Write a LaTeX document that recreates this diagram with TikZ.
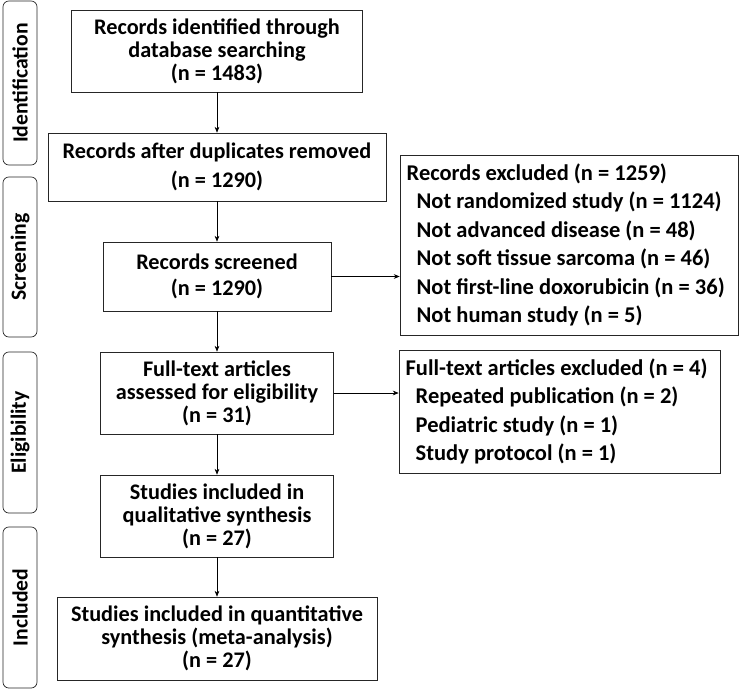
\documentclass[tikz,border=0pt]{standalone}
\usepackage{fontspec}
\setmainfont{Carlito}
\usetikzlibrary{arrows.meta}

\begin{document}
\begin{tikzpicture}[x=0.03cm, y=-0.03cm,
  box/.style={draw=black!85, line width=0.6pt, align=center, inner sep=0pt,
    font=\bfseries\fontsize{19}{19.6}\selectfont},
  exbox/.style={draw=black!85, line width=0.6pt, align=flush left, inner xsep=0.2cm, inner ysep=0pt,
    font=\bfseries\fontsize{19.2}{24.3}\selectfont},
  stage/.style={draw=black!85, line width=0.6pt, rounded corners=5pt, rotate=90,
    minimum height=1.02cm, inner sep=0pt, font=\bfseries\fontsize{18.5}{19}\selectfont},
  arr/.style={-{Stealth[length=5pt, width=4pt]}, line width=0.5pt}]
  \useasboundingbox (0,0) rectangle (740,690);

  % stage labels on the left
  \node[stage, minimum width=4.92cm] (ident) at (20, 83) {Identification};
  \node[stage, minimum width=4.8cm]  (screen) at (20, 257) {Screening};
  \node[stage, minimum width=4.83cm] (elig) at (20, 432.5) {Eligibility};
  \node[stage, minimum width=4.83cm] (incl) at (20, 607.5) {Included};

  % main column
  \node[box, minimum width=8.73cm, minimum height=2.46cm] (found) at (217, 51)
    {Records identified through\\database searching\\(n = 1483)};
  \node[box, minimum width=10.14cm, minimum height=2.04cm] (dedup) at (217, 167)
    {Records after duplicates removed\\[5pt](n = 1290)};
  \node[box, minimum width=6.84cm, minimum height=2.07cm] (screened) at (217, 276.5)
    {Records screened\\[3pt](n = 1290)};
  \node[box, minimum width=6.99cm, minimum height=2.46cm] (fulltext) at (217, 393)
    {Full-text articles\\assessed for eligibility\\(n = 31)};
  \node[box, minimum width=6.99cm, minimum height=2.46cm] (qual) at (217, 516)
    {Studies included in\\qualitative synthesis\\(n = 27)};
  \node[box, minimum width=9.6cm, minimum height=2.49cm] (quant) at (217, 638.5)
    {Studies included in quantitative\\synthesis (meta-analysis)\\(n = 27)};

  % exclusion boxes on the right
  \node[exbox, text width=9.74cm, minimum height=5.4cm] (excl) at (569, 245)
    {Records excluded (n = 1259)\\
     \hspace*{0.3cm}Not randomized study (n = 1124)\\
     \hspace*{0.3cm}Not advanced disease (n = 48)\\
     \hspace*{0.3cm}Not soft tissue sarcoma (n = 46)\\
     \hspace*{0.3cm}Not first-line doxorubicin (n = 36)\\
     \hspace*{0.3cm}Not human study (n = 5)};
  \node[exbox, text width=9.23cm, minimum height=3.69cm] (ftexcl) at (559.5, 411.5)
    {Full-text articles excluded (n = 4)\\
     \hspace*{0.3cm}Repeated publication (n = 2)\\
     \hspace*{0.3cm}Pediatric study (n = 1)\\
     \hspace*{0.3cm}Study protocol (n = 1)};

  % connectors
  \draw[arr] (found) -- (dedup);
  \draw[arr] (dedup) -- (screened);
  \draw[arr] (screened) -- (fulltext);
  \draw[arr] (fulltext) -- (qual);
  \draw[arr] (qual) -- (quant);
  \draw[arr] (screened.east) -- (screened.east -| excl.west);
  \draw[arr] (fulltext.east) -- (fulltext.east -| ftexcl.west);
\end{tikzpicture}
\end{document}
